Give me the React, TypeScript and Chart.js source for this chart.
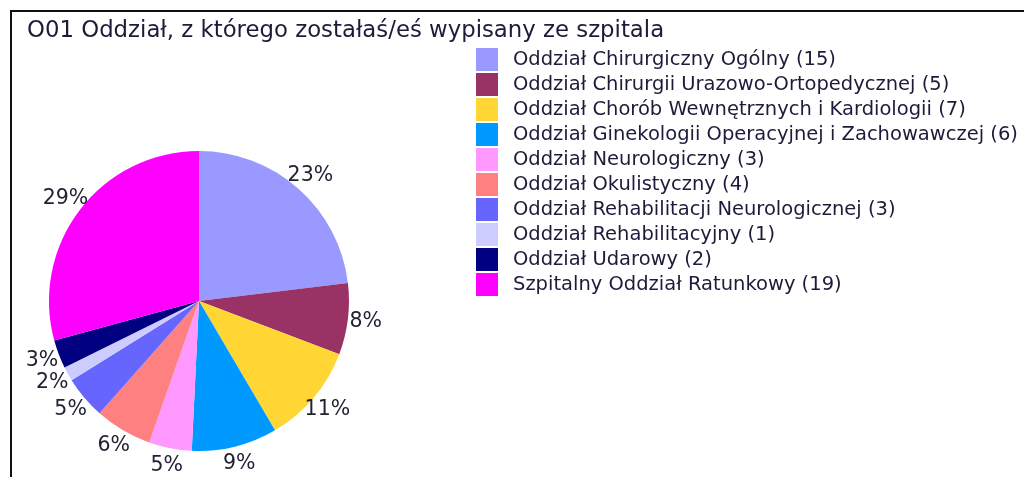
import React, { useEffect, useRef } from "react";
import { Chart, registerables } from "chart.js";

Chart.register(...registerables);

const titleText = "O01 Oddział, z którego zostałaś/eś wypisany ze szpitala";
const categories = [
  "Oddział Chirurgiczny Ogólny",
  "Oddział Chirurgii Urazowo-Ortopedycznej",
  "Oddział Chorób Wewnętrznych i Kardiologii",
  "Oddział Ginekologii Operacyjnej i Zachowawczej",
  "Oddział Neurologiczny",
  "Oddział Okulistyczny",
  "Oddział Rehabilitacji Neurologicznej",
  "Oddział Rehabilitacyjny",
  "Oddział Udarowy",
  "Szpitalny Oddział Ratunkowy",
];
const values = [15, 5, 7, 6, 3, 4, 3, 1, 2, 19];
const colors = [
  "#9999FF",
  "#993366",
  "#FFD633",
  "#0099FF",
  "#FF99FF",
  "#FF8080",
  "#6666FF",
  "#CCCCFF",
  "#000080",
  "#FF00FF",
];

const FONT = "'DejaVu Sans', Verdana, sans-serif";
const TEXT_COLOR = "#1c1c3a";

const overlayPlugin = {
  id: "overlay",
  afterDraw(chart: any) {
    const ctx = chart.ctx;
    ctx.save();
    // title
    ctx.fillStyle = TEXT_COLOR;
    ctx.font = `22.8px ${FONT}`;
    ctx.textAlign = "left";
    ctx.textBaseline = "middle";
    ctx.fillText(titleText, 27, 31);

    // percent labels
    const data = chart.data.datasets[0].data as number[];
    const total = data.reduce((a, b) => a + b, 0);
    const meta = chart.getDatasetMeta(0);
    ctx.font = `20.5px ${FONT}`;
    ctx.textAlign = "center";
    ctx.fillStyle = "#222233";
    meta.data.forEach((arc: any, i: number) => {
      const p = arc.getProps(["x", "y", "startAngle", "endAngle", "outerRadius"], true);
      const mid = (p.startAngle + p.endAngle) / 2;
      const r = p.outerRadius + 18;
      const x = p.x + Math.cos(mid) * r;
      const y = p.y + Math.sin(mid) * r;
      ctx.fillText(Math.round((data[i] / total) * 100) + "%", x, y);
    });

    // legend
    const labels = chart.data.labels as string[];
    const bg = chart.data.datasets[0].backgroundColor as string[];
    ctx.font = `19.5px ${FONT}`;
    ctx.textAlign = "left";
    labels.forEach((lab, i) => {
      const top = 48 + i * 25;
      ctx.fillStyle = bg[i];
      ctx.fillRect(476, top, 22, 23);
      ctx.fillStyle = TEXT_COLOR;
      ctx.fillText(`${lab} (${data[i]})`, 513, top + 12);
    });
    ctx.restore();
  },
};

export default function App() {
  const ref = useRef<HTMLCanvasElement | null>(null);
  useEffect(() => {
    if (!ref.current) return;
    const chart = new Chart(ref.current, {
      type: "pie",
      data: {
        labels: categories,
        datasets: [
          {
            data: values,
            backgroundColor: colors,
            borderWidth: 0,
          },
        ],
      },
      options: {
        animation: false,
        responsive: false,
        maintainAspectRatio: false,
        layout: { padding: { left: 49, top: 151, right: 675, bottom: 26 } },
        plugins: {
          legend: { display: false },
          title: { display: false },
          tooltip: { enabled: false },
        },
      },
      plugins: [overlayPlugin],
    });
    return () => chart.destroy();
  }, []);
  return (
    <div style={{ position: "fixed", left: 0, top: 0, width: 1024, height: 477, background: "#fff" }}>
      <canvas ref={ref} width={1024} height={477} style={{ position: "absolute", left: 0, top: 0 }} />
      <div
        style={{
          position: "absolute",
          left: 10,
          top: 10,
          right: 0,
          bottom: -5,
          borderTop: "2px solid #111",
          borderLeft: "2px solid #111",
          pointerEvents: "none",
        }}
      />
    </div>
  );
}
